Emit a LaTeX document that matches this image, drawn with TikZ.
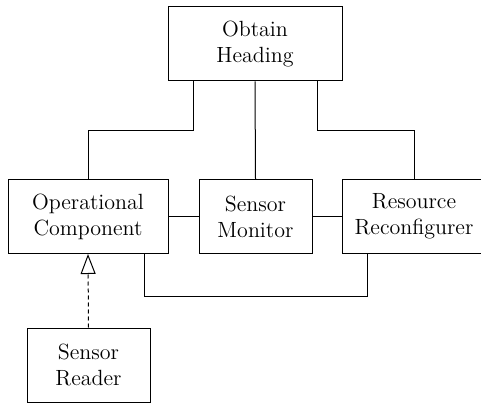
\documentclass[tikz,border=0pt]{standalone}
\usetikzlibrary{arrows.meta}
\begin{document}
\begin{tikzpicture}[x=0.5pt,y=-0.5pt,line width=0.5pt,
    block/.style={draw,align=center,minimum height=37pt,inner sep=0pt,
        font=\fontsize{11}{13}\selectfont},
    realize/.style={dash pattern=on 2pt off 1.5pt,-{Triangle[open,length=10pt,width=7.5pt]}}]
    \useasboundingbox (0,0) rectangle (481,405);
    %% components
    \node[block,minimum width=87pt] (heading) at (255,44) {Obtain\\Heading};
    \node[block,minimum width=80pt] (opcomp) at (88,216.5) {Operational\\Component};
    \node[block,minimum width=56.5pt] (monitor) at (255.5,216.5) {Sensor\\Monitor};
    \node[block,minimum width=72pt] (reconf) at (414,216.5) {Resource\\Reconfigurer};
    \node[block,minimum width=61.5pt] (reader) at (88.5,365) {Sensor\\Reader};
    %% links
    \draw ([xshift=-31pt]heading.south) -- ++(0,49) -| (opcomp.north);
    \draw (heading.south) -- (monitor.north);
    \draw ([xshift=31pt]heading.south) -- ++(0,49) -| (reconf.north);
    \draw (opcomp.east) -- (monitor.west);
    \draw (monitor.east) -- (reconf.west);
    \draw ([xshift=28pt]opcomp.south) -- ++(0,43) -| ([xshift=-23.5pt]reconf.south);
    \draw[realize] (reader.north) -- (opcomp.south);
\end{tikzpicture}
\end{document}
